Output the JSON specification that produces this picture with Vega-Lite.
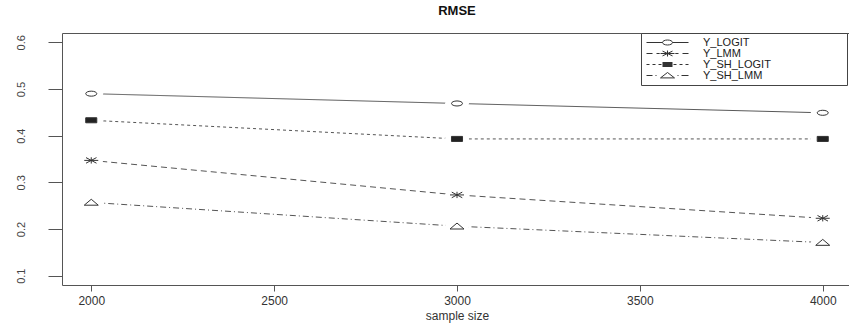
{
  "$schema": "https://vega.github.io/schema/vega-lite/v6.json",
  "width": 790,
  "height": 252,
  "autosize": {"type": "none"},
  "padding": {"left": 62, "top": 33, "right": 0, "bottom": 44},
  "background": "white",
  "title": {"text": "RMSE", "font": "Liberation Sans", "fontSize": 13, "fontWeight": "bold", "color": "#111", "offset": 15, "anchor": "middle"},
  "data": {"values": [
    {"series": "Y_LOGIT", "n": 2000, "rmse": 0.490},
    {"series": "Y_LOGIT", "n": 3000, "rmse": 0.469},
    {"series": "Y_LOGIT", "n": 4000, "rmse": 0.449},
    {"series": "Y_LMM", "n": 2000, "rmse": 0.347},
    {"series": "Y_LMM", "n": 3000, "rmse": 0.273},
    {"series": "Y_LMM", "n": 4000, "rmse": 0.223},
    {"series": "Y_SH_LOGIT", "n": 2000, "rmse": 0.433},
    {"series": "Y_SH_LOGIT", "n": 3000, "rmse": 0.393},
    {"series": "Y_SH_LOGIT", "n": 4000, "rmse": 0.393},
    {"series": "Y_SH_LMM", "n": 2000, "rmse": 0.257},
    {"series": "Y_SH_LMM", "n": 3000, "rmse": 0.206},
    {"series": "Y_SH_LMM", "n": 4000, "rmse": 0.171}
  ]},
  "encoding": {
    "x": {"field": "n", "type": "quantitative", "scale": {"domain": [1920, 4080], "nice": false, "zero": false},
      "axis": {"title": "sample size", "values": [2000, 2500, 3000, 3500, 4000], "format": "d", "grid": false, "domain": false,
        "tickSize": 6, "tickColor": "#555", "labelFont": "Liberation Sans", "labelFontSize": 12, "labelColor": "#333", "labelPadding": 4,
        "titleFont": "Liberation Sans", "titleFontSize": 12, "titleFontWeight": "normal", "titleColor": "#333", "titlePadding": 4}},
    "y": {"field": "rmse", "type": "quantitative", "scale": {"domain": [0.08, 0.62], "nice": false, "zero": false},
      "axis": {"title": null, "values": [0.1, 0.2, 0.3, 0.4, 0.5, 0.6], "format": ".1f", "grid": false, "domain": false,
        "tickSize": 14, "tickColor": "#555", "labelAngle": -90, "labelAlign": "center", "labelBaseline": "bottom",
        "labelFont": "Liberation Sans", "labelFontSize": 11, "labelColor": "#444", "labelPadding": 22}}
  },
  "layer": [
    {
      "mark": {"type": "line", "color": "#555", "strokeWidth": 1},
      "encoding": {
        "detail": {"field": "series"},
        "strokeDash": {"field": "series", "type": "nominal", "legend": null,
          "scale": {"range": [[6, 4], [1, 0], [1, 3, 6, 3], [3, 3]]}}
      }
    },
    {
      "mark": {"type": "point", "filled": true, "color": "white", "opacity": 1, "size": 576,
        "shape": "M-1,0A1,0.4 0 1,0 1,0A1,0.4 0 1,0 -1,0"},
      "encoding": {}
    },
    {
      "mark": {"type": "point", "size": 196, "strokeWidth": 1, "opacity": 1, "stroke": "#333"},
      "encoding": {
        "fill": {"condition": {"test": "datum.series === 'Y_SH_LOGIT'", "value": "#222"}, "value": "white"},
        "shape": {"field": "series", "type": "nominal", "legend": null,
          "scale": {
            "range": [
              "M-1,0L1,0M0,-0.45L0,0.45M-0.75,-0.4L0.75,0.4M-0.75,0.4L0.75,-0.4",
              "M-0.79,0A0.79,0.36 0 1,0 0.79,0A0.79,0.36 0 1,0 -0.79,0",
              "M-1,0.4L1,0.4L0,-0.45Z",
              "M-0.79,-0.36L0.79,-0.36L0.79,0.36L-0.79,0.36Z"
            ]}}
      }
    },
    {
      "mark": {"type": "point", "size": 0, "filled": false, "color": "#333", "strokeWidth": 1},
      "encoding": {
        "opacity": {"field": "series", "type": "ordinal",
          "scale": {"domain": ["Y_LOGIT", "Y_LMM", "Y_SH_LOGIT", "Y_SH_LMM"], "range": [1, 1, 1, 1]},
          "legend": {
            "title": null, "orient": "none", "legendX": 579, "legendY": 0,
            "padding": 4, "rowPadding": -2, "symbolSize": 64, "symbolStrokeWidth": 1,
            "symbolStrokeColor": "#333", "symbolFillColor": "transparent", "symbolOpacity": 1,
            "symbolType": {"expr": "datum.value === 'Y_LOGIT' ? 'M-1,0L3,0M5.5,0L9.5,0M3,0A1.25,0.625 0 1,0 5.5,0A1.25,0.625 0 1,0 3,0' : datum.value === 'Y_LMM' ? 'M-1,0L0.5,0M1.5,0L2.3,0M2.5,0L6,0M4.25,-0.75L4.25,0.75M3,-0.6L5.5,0.6M3,0.6L5.5,-0.6M6.2,0L7,0M8,0L9.5,0' : datum.value === 'Y_SH_LOGIT' ? 'M-1,0L-0.25,0M0.5,0L1.25,0M2,0L2.75,0M3,-0.5L5.5,-0.5M3,-0.25L5.5,-0.25M3,0L5.5,0M3,0.25L5.5,0.25M3,0.5L5.5,0.5M5.75,0L6.5,0M7.25,0L8,0M8.75,0L9.5,0' : 'M-1,0L0.5,0M1.25,0L1.5,0M2.5,0.6L6,0.6L4.25,-0.75ZM6.75,0L7,0M7.75,0L9.5,0'"},
            "labelFont": "Liberation Sans", "labelFontSize": 11, "labelColor": "#222", "labelOffset": 47, "labelLimit": 400,
            "labelExpr": "datum.label + '\u2800\u2800\u2800\u2800\u2800\u2800\u2800\u2800\u2800'",
            "strokeColor": "#444", "fillColor": "white", "cornerRadius": 0
          }}
      }
    }
  ],
  "config": {"view": {"stroke": "#555", "strokeWidth": 1}}
}
